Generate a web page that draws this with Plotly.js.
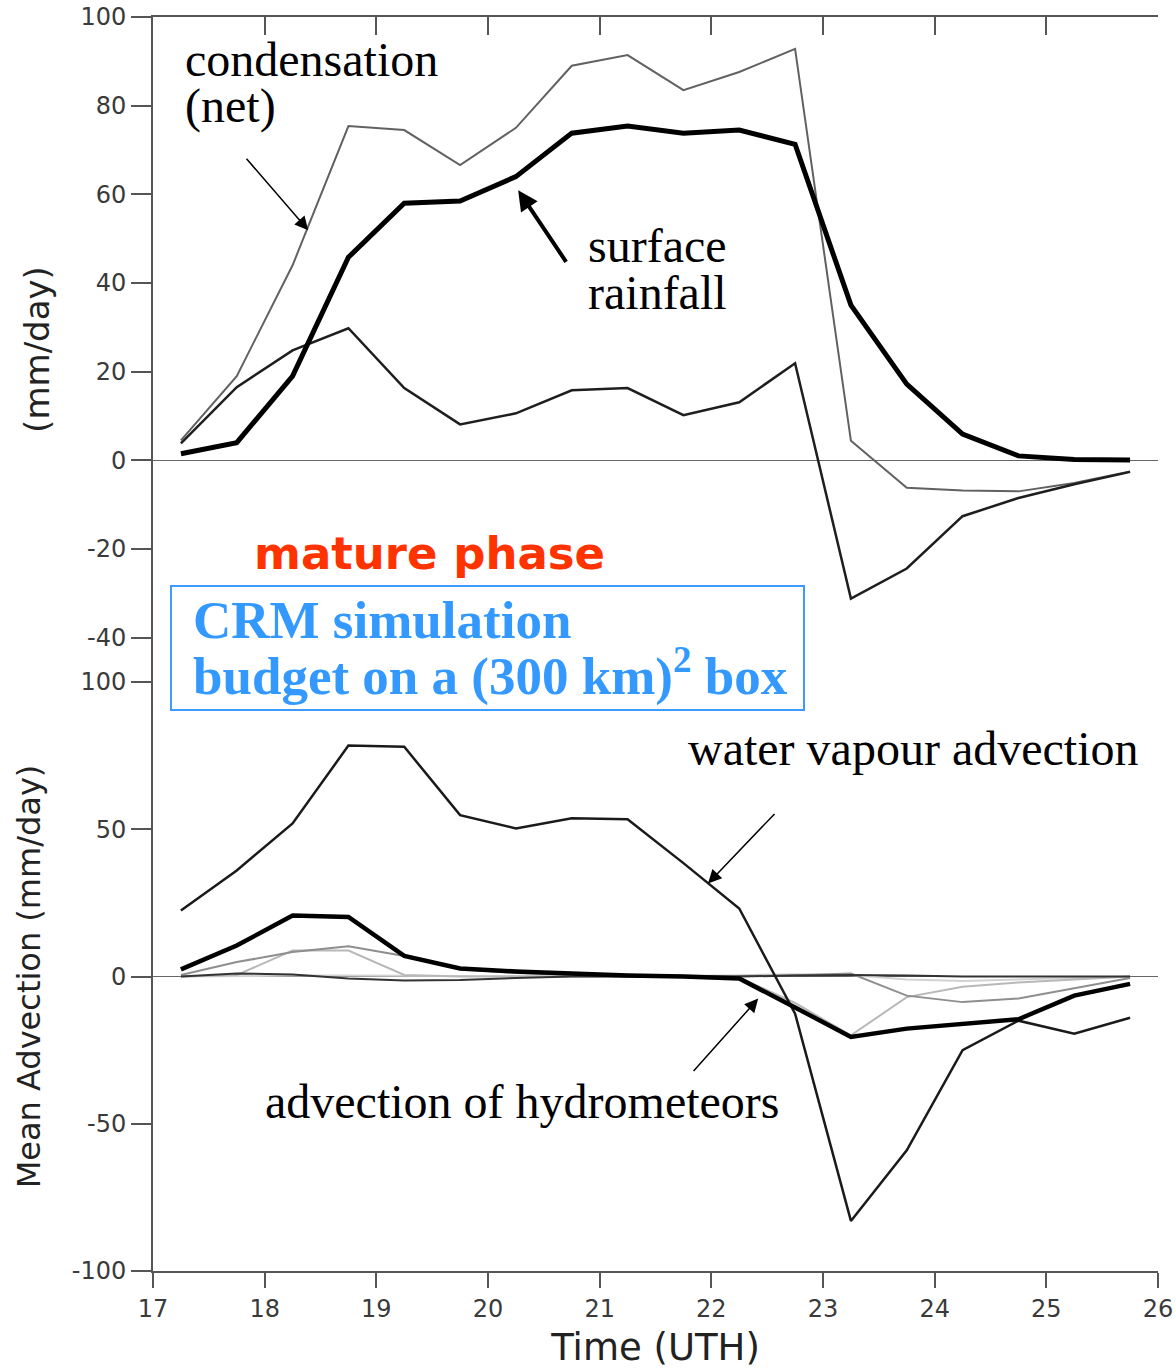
<!DOCTYPE html>
<html>
<head>
<meta charset="utf-8">
<script src="https://cdn.plot.ly/plotly-3.0.1.min.js"></script>
<style>
html,body{margin:0;padding:0;background:#fff;}
#chart{width:1176px;height:1369px;}
</style>
</head>
<body>
<div id="chart"></div>
<script>
// ---- data ----
const timeUTH = [17.25,17.75,18.25,18.75,19.25,19.75,20.25,20.75,21.25,21.75,22.25,22.75,23.25,23.75,24.25,24.75,25.25,25.75];

// top panel (mm/day)
const condensationNet = [4.5,19,44,75.4,74.5,66.6,75,89,91.4,83.5,87.6,92.8,4.4,-6.2,-6.8,-7,-5.1,-2.5];
const surfaceRainfall = [1.5,4,19,45.8,58,58.5,64,73.8,75.4,73.8,74.5,71.3,35,17.2,5.9,1.0,0.2,0.1];
const condMinusRain   = [3.8,16.5,24.8,29.8,16.3,8.1,10.6,15.8,16.3,10.2,13.1,21.9,-31.2,-24.4,-12.6,-8.5,-5.4,-2.6];

// bottom panel (mm/day)
const vapourAdvection = [22.4,36,52,78.4,78,54.8,50.3,53.7,53.4,38.5,23.1,-12.6,-83,-59,-25,-15,-19.4,-14];
const hydroAdvection  = [2.4,10.5,20.7,20.2,7,2.7,1.7,1,0.3,0,-0.7,-10.5,-20.5,-17.7,-16,-14.5,-6.5,-2.5];
const hydroSpeciesA   = [0.5,4.9,8.3,10.3,7,2.5,1.2,0.6,0.3,0.2,0.2,0.4,1,-6.5,-8.7,-7.5,-4,-0.5];
const hydroSpeciesB   = [0,0.5,8.8,8.8,0.5,0,0,0,0,0,-0.3,-9,-20,-7,-3.5,-2,-1,0];
const hydroSpeciesC   = [0,1,0.7,-0.7,-1.4,-1.2,-0.5,0,0,0,0,0.3,0.5,0.3,0,0,0,0];
const hydroSpeciesD   = [0,0.2,0.3,0.3,0.2,0.1,0,0,0,0,0.5,0.8,0.5,-1,-1.5,-1,-0.5,0];

// tick labels
const xTickVals = [17,18,19,20,21,22,23,24,25,26];
const xTickText = ['17','18','19','20','21','22','23','24','25','26'];
const xInnerTicks = [18,19,20,21,22,23,24,25];
const yTopTickVals = [-40,-20,0,20,40,60,80,100];
const yTopTickText = ['-40','-20','0','20','40','60','80','100'];
const yBotTickVals = [-100,-50,0,50,100];
const yBotTickText = ['-100','-50','0','50','100'];

// ---- layout helpers (pixel -> paper) ----
const L = 153, R = 1158, T = 17, B = 1271;
const PX = x => (x - L) / (R - L);
const PY = y => (B - y) / (B - T);
const splitY = PY(682);

const AX = '#555';
const tickFont = {family: 'DejaVu Sans, Liberation Sans, sans-serif', size: 24, color: '#3a3a3a'};

const traces = [
  {x: timeUTH, y: condensationNet, xaxis: 'x', yaxis: 'y', mode: 'lines', line: {color: '#616161', width: 2}, name: 'condensation (net)'},
  {x: timeUTH, y: condMinusRain, xaxis: 'x', yaxis: 'y', mode: 'lines', line: {color: '#1e1e1e', width: 2.5}, name: 'difference'},
  {x: timeUTH, y: surfaceRainfall, xaxis: 'x', yaxis: 'y', mode: 'lines', line: {color: '#000', width: 5}, name: 'surface rainfall'},

  {x: timeUTH, y: hydroSpeciesD, xaxis: 'x2', yaxis: 'y2', mode: 'lines', line: {color: '#d2d2d2', width: 2}, name: 'species D'},
  {x: timeUTH, y: hydroSpeciesB, xaxis: 'x2', yaxis: 'y2', mode: 'lines', line: {color: '#b8b8b8', width: 2}, name: 'species B'},
  {x: timeUTH, y: hydroSpeciesA, xaxis: 'x2', yaxis: 'y2', mode: 'lines', line: {color: '#8e8e8e', width: 2}, name: 'species A'},
  {x: timeUTH, y: hydroSpeciesC, xaxis: 'x2', yaxis: 'y2', mode: 'lines', line: {color: '#333', width: 2}, name: 'species C'},
  {x: timeUTH, y: vapourAdvection, xaxis: 'x2', yaxis: 'y2', mode: 'lines', line: {color: '#1a1a1a', width: 2.5}, name: 'water vapour advection'},
  {x: timeUTH, y: hydroAdvection, xaxis: 'x2', yaxis: 'y2', mode: 'lines', line: {color: '#000', width: 4.5}, name: 'advection of hydrometeors'}
];

const baseAxis = {showgrid: false, showline: true, linecolor: AX, linewidth: 2, tickcolor: AX, tickwidth: 2, zeroline: false, fixedrange: true};

const serif = 'Liberation Serif, Times New Roman, serif';
function label(text, x, y, size, extra) {
  return Object.assign({text: text, xref: 'paper', yref: 'paper', x: PX(x), y: PY(y), xanchor: 'left', yanchor: 'middle', showarrow: false, font: {family: serif, size: size, color: '#000'}}, extra || {});
}
function arrow(xr, yr, x, y, ax, ay, w, size) {
  return {text: '', xref: xr, yref: yr, x: x, y: y, ax: ax, ay: ay, showarrow: true, arrowhead: 2, arrowsize: size, arrowwidth: w, arrowcolor: '#000', standoff: 0};
}

const layout = {
  width: 1176, height: 1369,
  margin: {l: L, r: 1176 - R, t: T, b: 1369 - B},
  paper_bgcolor: '#fff', plot_bgcolor: '#fff',
  showlegend: false,
  xaxis: Object.assign({}, baseAxis, {domain: [0, 1], anchor: 'y', side: 'top', range: [17, 26], tickvals: xInnerTicks, ticks: 'inside', ticklen: 18, showticklabels: false}),
  yaxis: Object.assign({}, baseAxis, {domain: [splitY, 1], anchor: 'x', range: [-50, 100], tickvals: yTopTickVals, ticktext: yTopTickText, ticks: 'outside', ticklen: 20, tickfont: tickFont,
    zeroline: true, zerolinecolor: '#666', zerolinewidth: 1.5,
    title: {text: '(mm/day)', font: {family: 'DejaVu Sans, sans-serif', size: 34, color: '#222'}, standoff: 20}}),
  yaxis3: Object.assign({}, baseAxis, {overlaying: 'y', anchor: 'x', side: 'right', range: [-50, 100], tickvals: yTopTickVals, ticks: 'inside', ticklen: 20, showticklabels: false}),

  xaxis2: Object.assign({}, baseAxis, {domain: [0, 1], anchor: 'y2', range: [17, 26], tickvals: xTickVals, ticktext: xTickText, ticks: 'outside', ticklen: 15, tickfont: tickFont,
    title: {text: 'Time (UTH)', font: {family: 'DejaVu Sans, sans-serif', size: 37, color: '#222'}, standoff: 14}}),
  xaxis3: Object.assign({}, baseAxis, {overlaying: 'x2', anchor: 'y2', side: 'top', range: [17, 26], tickvals: xInnerTicks, ticks: 'inside', ticklen: 18, showticklabels: false}),
  yaxis2: Object.assign({}, baseAxis, {domain: [0, splitY], anchor: 'x2', range: [-100, 100], tickvals: yBotTickVals, ticktext: yBotTickText, ticks: 'outside', ticklen: 20, tickfont: tickFont,
    zeroline: true, zerolinecolor: '#666', zerolinewidth: 1.5,
    title: {text: 'Mean Advection (mm/day)', font: {family: 'DejaVu Sans, sans-serif', size: 32, color: '#222'}, standoff: 22}}),
  yaxis4: Object.assign({}, baseAxis, {overlaying: 'y2', anchor: 'x2', side: 'right', range: [-100, 100], tickvals: yBotTickVals, ticks: 'inside', ticklen: 20, showticklabels: false}),

  shapes: [
    {type: 'rect', xref: 'paper', yref: 'paper', x0: PX(171), x1: PX(804), y0: PY(710), y1: PY(586), line: {color: '#3d9bff', width: 2}, fillcolor: '#fff', layer: 'above'}
  ],
  annotations: [
    label('condensation', 183, 60, 48),
    label('(net)', 183, 106, 48),
    label('surface', 586, 246, 48),
    label('rainfall', 586, 292, 48),
    label('water vapour advection', 686, 748, 48),
    label('advection of hydrometeors', 263, 1101, 48),
    label('mature phase', 252, 553, 46, {font: {family: 'DejaVu Sans, sans-serif', size: 45, color: '#ff3300', weight: 'bold'}}),
    label('<b>CRM simulation</b>', 191, 620, 53, {font: {family: serif, size: 53, color: '#3399ff'}}),
    label('<b>budget on a (300 km)<sup>2</sup> box</b>', 191, 672, 53, {font: {family: serif, size: 53, color: '#3399ff'}}),
    arrow('x', 'y', 18.39, 51.9, -63, -73, 1.5, 1.8),
    arrow('x', 'y', 20.27, 60.9, 49, 73, 4, 1),
    arrow('x2', 'y2', 21.97, 31.6, 68, -71, 1.5, 1.8),
    arrow('x2', 'y2', 22.42, -7.5, -66, 74, 1.5, 1.8)
  ]
};

Plotly.newPlot('chart', traces, layout, {displayModeBar: false, staticPlot: true});
</script>
</body>
</html>
